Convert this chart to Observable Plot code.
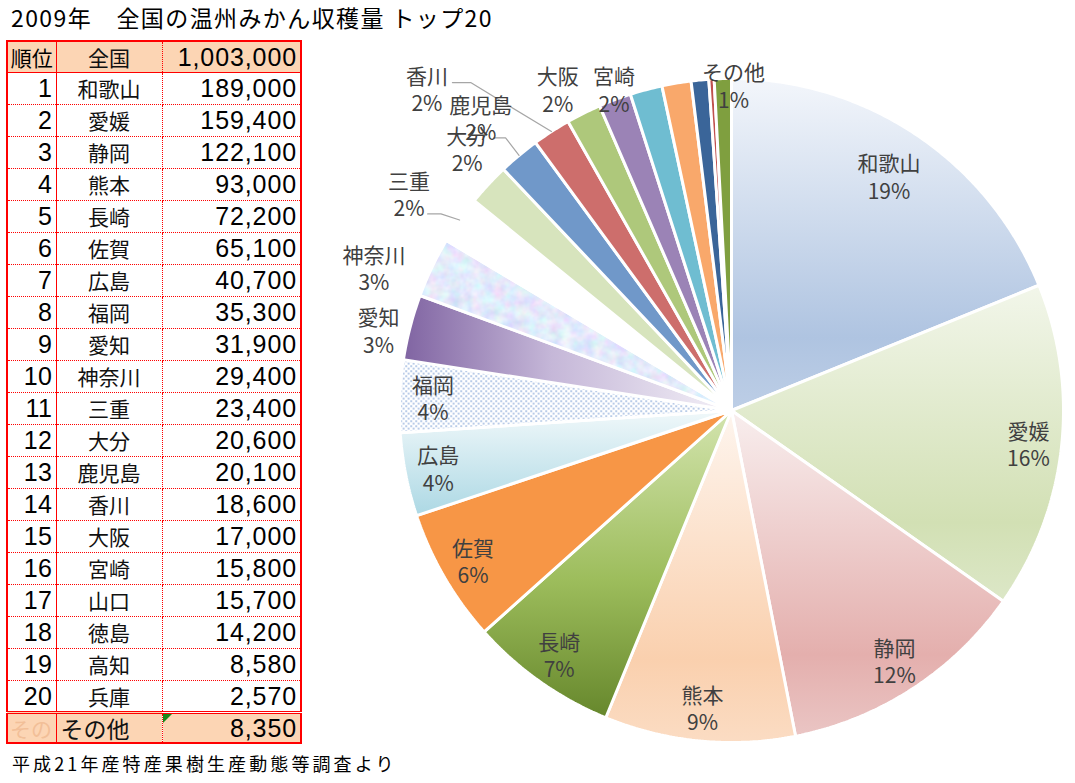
<!DOCTYPE html>
<html><head><meta charset="utf-8">
<script src="https://cdn.jsdelivr.net/npm/d3@7"></script>
<script src="https://cdn.jsdelivr.net/npm/@observablehq/plot@0.6"></script>
<style>
body{margin:0;width:1075px;height:783px;position:relative;background:#fff;overflow:hidden;font-family:"Noto Sans CJK JP",sans-serif;}
#title{position:absolute;left:11px;top:4px;font-size:23px;line-height:26px;letter-spacing:1.4px;color:#000;white-space:pre;}
#tbl{position:absolute;left:6px;top:40px;border-collapse:collapse;border:2px solid #f00;table-layout:fixed;}
#tbl td{padding:0;height:32px;line-height:24px;box-sizing:border-box;white-space:nowrap;overflow:visible;}
#tbl td.c1{width:49px;border-right:1.5px solid #f00;text-align:right;padding-right:3px;font-family:"Liberation Sans",Arial,sans-serif;font-size:25px;letter-spacing:0.5px;}
#tbl td.c2{width:106px;border-right:1px dotted #f00;text-align:center;font-size:21px;color:#111;}
#tbl td.c3{width:139px;text-align:right;padding-right:3px;font-family:"Liberation Sans",Arial,sans-serif;font-size:25px;letter-spacing:0.9px;}
#tbl tr.row td{border-bottom:1px dotted #f00;}
#tbl tr.head td{height:31px;border-bottom:1.5px solid #f00;background:#fcd5b4;}
#tbl tr.head td.c1{font-family:"Noto Sans CJK JP",sans-serif;font-size:21px;letter-spacing:0;text-align:center;padding-right:0;}
#tbl tr.other td{border-top:3px double #f00;background:#fcd5b4;height:31px;}
#tbl tr.other td.c1{font-family:"Noto Sans CJK JP",sans-serif;font-size:21px;color:#f2bf98;letter-spacing:0;text-align:left;padding-left:2px;}
#tbl tr.other td.c2{text-align:left;padding-left:4px;font-size:23px;}
#tbl tr.other td.c3{position:relative;}
.tri{position:absolute;left:0;top:0;width:0;height:0;border-top:9px solid #1a8a1a;border-right:9px solid transparent;}
#chart{position:absolute;left:305px;top:40px;}
#foot{position:absolute;left:12px;top:751px;font-size:18px;letter-spacing:3.1px;line-height:24px;color:#000;}
</style></head>
<body>
<div id="title"></div>
<table id="tbl"></table>
<div id="chart"></div>
<div id="foot"></div>
<script>
// ---- data ----
const titleText = "2009年　全国の温州みかん収穫量 トップ20";
const footText = "平成21年産特産果樹生産動態等調査より";
const rankHeader = "順位";
const totalName = "全国";
const total = 1003000;
const names = ["和歌山","愛媛","静岡","熊本","長崎","佐賀","広島","福岡","愛知","神奈川","三重","大分","鹿児島","香川","大阪","宮崎","山口","徳島","高知","兵庫","その他"];
const values = [189000,159400,122100,93000,72200,65100,40700,35300,31900,29400,23400,20600,20100,18600,17000,15800,15700,14200,8580,2570,8350];
const otherGhost = "その";
const unlabeled = ["山口","徳島","高知","兵庫"];

// ---- styles ----
const fills = {
  "和歌山":"url(#gWak)","愛媛":"url(#gEhi)","静岡":"url(#gShi)","熊本":"url(#gKum)","長崎":"url(#gNag)",
  "佐賀":"#f79646","広島":"url(#gHir)","福岡":"url(#dots)","愛知":"url(#gAic)","神奈川":"url(#tex)",
  "三重":"none","大分":"#d7e4bd","鹿児島":"#7098c9","香川":"#cd6e6c","大阪":"#aec87b","宮崎":"#9b83b6",
  "山口":"#6fbdd1","徳島":"#f9a86b","高知":"#3a6599","兵庫":"#c0504d","その他":"#7f9f3f"
};
const insideR = {"和歌山":0.85};
const outsideLabels = {"愛知":[1.09,282.8],"神奈川":[1.16,291.8],"三重":[1.17,303.9],"大分":[1.12,314.7],
  "鹿児島":[1.16,319.4],"香川":[1.335,316.6],"大阪":[1.10,331.6],"宮崎":[1.03,339.9],"その他":[0.98,0.35]};
const leaders = {"香川":[1.297,319.6,0.055],"鹿児島":[1.09,318.9,0.036],"三重":[1.09,302.9,0.04]};

document.getElementById("title").textContent = titleText;
document.getElementById("foot").textContent = footText;

// ---- table ----
const fmt = d3.format(",");
const tbl = d3.select("#tbl");
const head = tbl.append("tr").attr("class","head");
head.append("td").attr("class","c1").text(rankHeader);
head.append("td").attr("class","c2").text(totalName);
head.append("td").attr("class","c3").text(fmt(total));
for (let i = 0; i < 20; i++) {
  const tr = tbl.append("tr").attr("class","row");
  tr.append("td").attr("class","c1").text(i + 1);
  tr.append("td").attr("class","c2").text(names[i]);
  tr.append("td").attr("class","c3").text(fmt(values[i]));
}
const ot = tbl.append("tr").attr("class","other");
ot.append("td").attr("class","c1").text(otherGhost);
ot.append("td").attr("class","c2").text(names[20]);
const oc3 = ot.append("td").attr("class","c3").text(fmt(values[20]));
oc3.append("span").attr("class","tri");

// ---- pie geometry ----
const rad = Math.PI / 180;
const polys = [];
const labelData = [];
const leaderData = [];
let acc = 0;
names.forEach((name, i) => {
  const a0 = acc / total * 2 * Math.PI;
  acc += values[i];
  const a1 = acc / total * 2 * Math.PI;
  const n = Math.max(2, Math.ceil((a1 - a0) / (0.5 * rad)));
  polys.push({name, x: 0, y: 0});
  for (let k = 0; k <= n; k++) {
    const a = a0 + (a1 - a0) * k / n;
    polys.push({name, x: Math.sin(a), y: Math.cos(a)});
  }
  if (unlabeled.includes(name)) return;
  const pct = Math.round(values[i] / total * 100) + "%";
  const mid = (a0 + a1) / 2;
  let r, a;
  if (outsideLabels[name]) { r = outsideLabels[name][0]; a = outsideLabels[name][1] * rad; }
  else { r = insideR[name] ?? 0.9; a = mid; }
  labelData.push({name, x: r * Math.sin(a), y: r * Math.cos(a), text: name + "\n" + pct});
  if (leaders[name]) {
    const [lr, la, kn] = leaders[name];
    const sx = lr * Math.sin(la * rad), sy = lr * Math.cos(la * rad);
    leaderData.push({name, x: sx, y: sy});
    leaderData.push({name, x: sx + kn, y: sy});
    leaderData.push({name, x: Math.sin(mid), y: Math.cos(mid)});
  }
});

const chart = Plot.plot({
  width: 770,
  height: 743,
  x: {domain: [-1, 1], range: [94, 758], axis: null},
  y: {domain: [-1, 1], range: [702, 38], axis: null},
  color: {type: "identity"},
  style: {background: "transparent", overflow: "visible"},
  marks: [
    Plot.line(polys, {x: "x", y: "y", z: "name", fill: d => fills[d.name], stroke: "white", strokeWidth: 3, strokeLinejoin: "miter", curve: "linear-closed"}),
    Plot.line(leaderData, {x: "x", y: "y", z: "name", stroke: "#a6a6a6", strokeWidth: 1.2}),
    Plot.text(labelData, {x: "x", y: "y", text: "text", fill: "#404040", fontSize: 21, lineHeight: 1.3, lineAnchor: "middle", fontFamily: "'Noto Sans CJK JP', sans-serif"})
  ]
});

const defs = d3.select(chart).insert("defs", ":first-child");
function vgrad(id, stops, horiz) {
  const g = defs.append("linearGradient").attr("id", id)
    .attr("x1", 0).attr("y1", 0).attr("x2", horiz ? 1 : 0).attr("y2", horiz ? 0 : 1);
  stops.forEach(([o, c]) => g.append("stop").attr("offset", o).attr("stop-color", c));
}
vgrad("gWak", [[0,"#f3f6fb"],[0.78,"#afc4e1"],[1,"#bdcee6"]]);
vgrad("gEhi", [[0,"#f2f6ea"],[0.75,"#d2e0b4"],[1,"#dce7c7"]]);
vgrad("gShi", [[0,"#f8eeee"],[0.75,"#e4afad"],[1,"#eac5c4"]]);
vgrad("gKum", [[0,"#fef5ee"],[0.75,"#fad0ae"],[1,"#fbdcc3"]]);
vgrad("gNag", [[0,"#d3e4ae"],[0.55,"#9dbd5c"],[1,"#66872c"]]);
vgrad("gHir", [[0,"#f0f8fa"],[1,"#acd8e4"]]);
vgrad("gAic", [[0,"#8064a2"],[0.45,"#c5b7d8"],[1,"#f3f0f7"]], true);
const dots = defs.append("pattern").attr("id","dots").attr("patternUnits","userSpaceOnUse").attr("width",5).attr("height",5);
dots.append("rect").attr("width",5).attr("height",5).attr("fill","#fff");
dots.append("rect").attr("x",0).attr("y",0).attr("width",1.3).attr("height",1.3).attr("fill","#5a86c8");
dots.append("rect").attr("x",2.5).attr("y",2.5).attr("width",1.3).attr("height",1.3).attr("fill","#5a86c8");
const filt = defs.append("filter").attr("id","noise").attr("x",0).attr("y",0).attr("width",1).attr("height",1);
filt.append("feTurbulence").attr("type","fractalNoise").attr("baseFrequency",0.09).attr("numOctaves",3).attr("seed",4);
filt.append("feColorMatrix").attr("type","matrix").attr("values","0.5 0 0 0 0.52  0 0.45 0 0 0.6  0 0 0.2 0 0.86  0 0 0 0 1");
const tex = defs.append("pattern").attr("id","tex").attr("patternUnits","userSpaceOnUse").attr("width",770).attr("height",743);
tex.append("rect").attr("width",770).attr("height",743).attr("fill","#cdd6f2").attr("filter","url(#noise)");

document.getElementById("chart").appendChild(chart);
</script>
</body></html>
